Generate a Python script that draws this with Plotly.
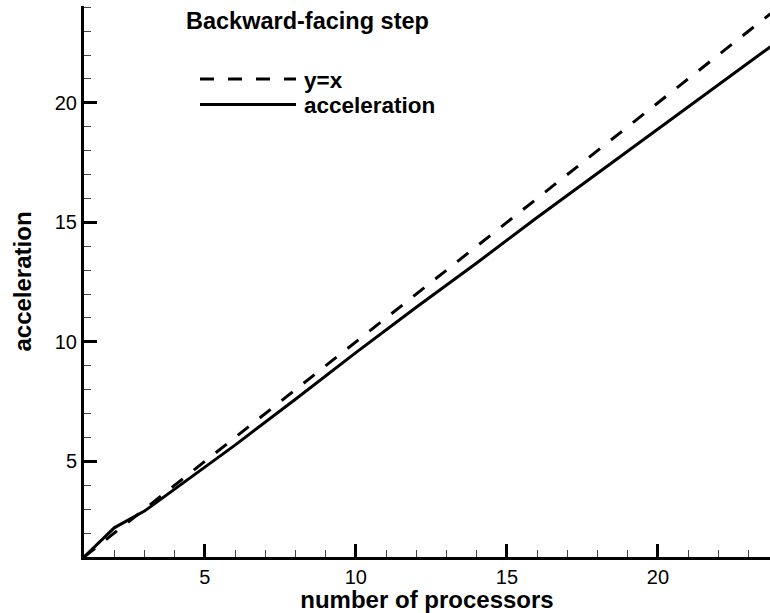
import plotly.graph_objects as go

# Data
procs = [1, 2, 3, 4, 5, 6, 8, 10, 12, 14, 16, 18, 20, 22, 24]
accel = [1, 2.22, 2.92, 3.85, 4.76, 5.68, 7.6, 9.55, 11.45, 13.3, 15.2, 17.05, 18.9, 20.75, 22.6]
ideal_x = [1, 24]
ideal_y = [1, 24]

title_text = "Backward-facing step"
legend_labels = ["y=x", "acceleration"]
x_title = "number of processors"
y_title = "acceleration"

FONT = "Liberation Sans, Arial, Helvetica, sans-serif"

fig = go.Figure()
fig.add_trace(go.Scatter(x=ideal_x, y=ideal_y, mode="lines", name=legend_labels[0],
                         line=dict(color="black", width=3, dash="14px,14px")))
fig.add_trace(go.Scatter(x=procs, y=accel, mode="lines", name=legend_labels[1],
                         line=dict(color="black", width=3)))

L, R, T, B = 84, 0, 6, 56
W, H = 770, 613
pw, ph = W - L - R, H - T - B

def px(xp):
    return (xp - L) / pw

def py(yp):
    return (H - B - yp) / ph

axis_common = dict(
    showgrid=False, zeroline=False, showline=True, linecolor="black", linewidth=3,
    ticks="inside", ticklen=13, tickwidth=3, tickcolor="black",
    tickfont=dict(family=FONT, size=20, color="black"),
    mirror=False, automargin=False,
)

fig.update_xaxes(range=[1, 23.71], dtick=5, tick0=0,
                 minor=dict(dtick=1, tick0=0, ticks="inside", ticklen=7, tickwidth=1, tickcolor="#444"),
                 title=dict(text="<b>%s</b>" % x_title, font=dict(family=FONT, size=24, color="black"), standoff=0),
                 **axis_common)
fig.update_yaxes(range=[1, 24.05], dtick=5, tick0=0,
                 minor=dict(dtick=1, tick0=0, ticks="inside", ticklen=7, tickwidth=1, tickcolor="#444"),
                 title=dict(text="<b>%s</b>" % y_title, font=dict(family=FONT, size=24, color="black"), standoff=17),
                 **axis_common)

shapes = [
    dict(type="line", xref="paper", yref="paper", x0=px(200), x1=px(296), y0=py(79), y1=py(79),
         line=dict(color="black", width=3, dash="14px,14px")),
    dict(type="line", xref="paper", yref="paper", x0=px(200), x1=px(296), y0=py(104.5), y1=py(104.5),
         line=dict(color="black", width=3)),
]

annotations = [
    dict(text="<b>%s</b>" % title_text, xref="paper", yref="paper", x=px(184), y=py(21),
         xanchor="left", yanchor="middle", showarrow=False,
         font=dict(family=FONT, size=23.5, color="black")),
    dict(text="<b>%s</b>" % legend_labels[0], xref="paper", yref="paper", x=px(302), y=py(80),
         xanchor="left", yanchor="middle", showarrow=False,
         font=dict(family=FONT, size=22.5, color="black")),
    dict(text="<b>%s</b>" % legend_labels[1], xref="paper", yref="paper", x=px(302), y=py(105),
         xanchor="left", yanchor="middle", showarrow=False,
         font=dict(family=FONT, size=22.5, color="black")),
]

fig.update_layout(
    width=W, height=H, margin=dict(l=L, r=R, t=T, b=B, pad=0),
    paper_bgcolor="white", plot_bgcolor="white", showlegend=False,
    shapes=shapes, annotations=annotations,
    font=dict(family=FONT, color="black"),
)

fig.write_html("out.html", config={"displayModeBar": False},
               post_script="document.body.style.margin='0';document.body.style.overflow='hidden';")
